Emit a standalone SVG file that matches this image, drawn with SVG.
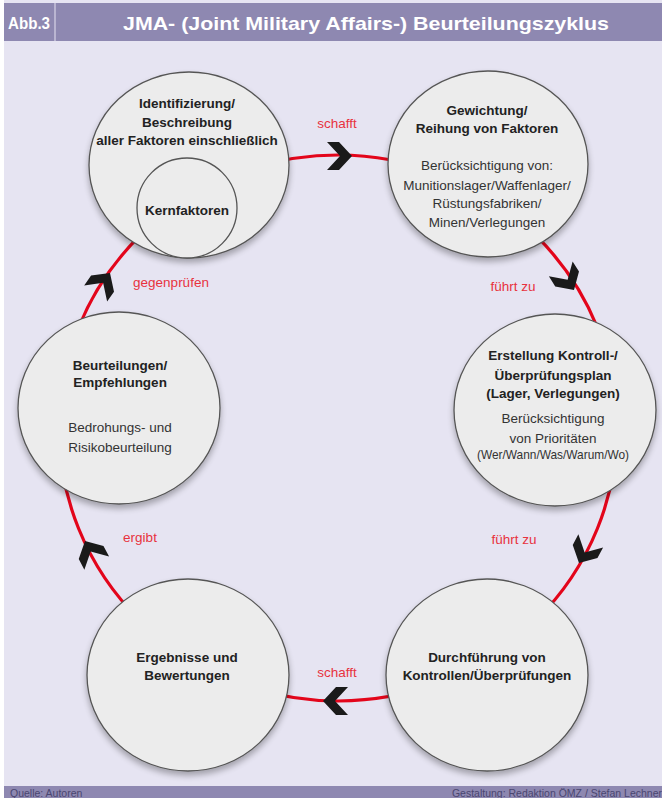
<svg xmlns="http://www.w3.org/2000/svg" width="662" height="798" viewBox="0 0 662 798">
<defs>
<style>
.node{fill:#ececec;stroke:#555;stroke-width:1.3;filter:url(#sh)}
.b{font-family:"Liberation Sans",Arial,sans-serif;font-weight:bold;font-size:13.5px;fill:#222;text-anchor:middle}
.r{font-family:"Liberation Sans",Arial,sans-serif;font-size:13.5px;fill:#333;text-anchor:middle}
.lbl{font-family:"Liberation Sans",Arial,sans-serif;font-size:13.5px;fill:#e8323e;text-anchor:middle}
.ring{fill:none;stroke:#e3051b;stroke-width:3.2}
.hd{font-family:"Liberation Sans",Arial,sans-serif;font-weight:bold;fill:#fff}
.ft{font-family:"Liberation Sans",Arial,sans-serif;font-size:10.5px;fill:#4a4670}
</style>
<filter id="sh" x="-20%" y="-20%" width="140%" height="150%">
<feGaussianBlur in="SourceAlpha" stdDeviation="3"/>
<feOffset dx="0" dy="4" result="o"/>
<feComponentTransfer><feFuncA type="linear" slope="0.3"/></feComponentTransfer>
<feMerge><feMergeNode/><feMergeNode in="SourceGraphic"/></feMerge>
</filter>
<polygon id="chev" points="-25,-14 -13,-14 0,0 -13,14 -25,14 -12,0" fill="#1a1a1a"/>
</defs>
<rect x="0" y="0" width="662" height="798" fill="#ffffff"/>
<rect x="4" y="0" width="658" height="798" fill="#e6e4f2"/>
<rect x="4" y="3" width="658" height="38" fill="#8e88b1"/>
<line x1="55" y1="3" x2="55" y2="41" stroke="#c9c5dc" stroke-width="1.5"/>
<text class="hd" x="8" y="29" font-size="16" textLength="42" lengthAdjust="spacingAndGlyphs">Abb.3</text>
<text class="hd" x="123" y="30" font-size="19" textLength="486" lengthAdjust="spacingAndGlyphs">JMA- (Joint Military Affairs-) Beurteilungszyklus</text>
<rect x="4" y="786" width="658" height="12" fill="#8e88b1"/>
<text class="ft" x="10" y="797">Quelle: Autoren</text>
<text class="ft" x="662" y="797" text-anchor="end">Gestaltung: Redaktion ÖMZ / Stefan Lechner</text>

<g id="connectors">
<ellipse class="ring" cx="338" cy="428" rx="279" ry="273"/>
</g>

<g id="n1">
<ellipse class="node" cx="189" cy="165" rx="100" ry="93"/>
<circle cx="187" cy="208" r="50" fill="#ececec" stroke="#555" stroke-width="1.3"/>
<text class="b" x="187" y="108">Identifizierung/</text>
<text class="b" x="187" y="127">Beschreibung</text>
<text class="b" x="187" y="145">aller Faktoren einschließlich</text>
<text class="b" x="187" y="215">Kernfaktoren</text>
</g>
<g id="n2">
<ellipse class="node" cx="488" cy="164" rx="100" ry="93"/>
<text class="b" x="487" y="115">Gewichtung/</text>
<text class="b" x="487" y="133">Reihung von Faktoren</text>
<text class="r" x="487" y="170">Berücksichtigung von:</text>
<text class="r" x="487" y="190">Munitionslager/Waffenlager/</text>
<text class="r" x="487" y="208">Rüstungsfabriken/</text>
<text class="r" x="487" y="227">Minen/Verlegungen</text>
</g>
<g id="n3">
<ellipse class="node" cx="555" cy="410" rx="101" ry="96"/>
<text class="b" x="553" y="360">Erstellung Kontroll-/</text>
<text class="b" x="553" y="380">Überprüfungsplan</text>
<text class="b" x="553" y="398">(Lager, Verlegungen)</text>
<text class="r" x="553" y="423">Berücksichtigung</text>
<text class="r" x="553" y="443">von Prioritäten</text>
<text class="r" x="553" y="459" font-size="11" textLength="152" lengthAdjust="spacingAndGlyphs">(Wer/Wann/Was/Warum/Wo)</text>
</g>
<g id="n4">
<ellipse class="node" cx="487" cy="675" rx="101" ry="96"/>
<text class="b" x="487" y="662">Durchführung von</text>
<text class="b" x="487" y="680">Kontrollen/Überprüfungen</text>
</g>
<g id="n5">
<ellipse class="node" cx="188" cy="675" rx="101" ry="96"/>
<text class="b" x="187" y="662">Ergebnisse und</text>
<text class="b" x="187" y="680">Bewertungen</text>
</g>
<g id="n6">
<ellipse class="node" cx="119" cy="408" rx="101" ry="96"/>
<text class="b" x="120" y="370">Beurteilungen/</text>
<text class="b" x="120" y="387">Empfehlungen</text>
<text class="r" x="120" y="432">Bedrohungs- und</text>
<text class="r" x="120" y="452">Risikobeurteilung</text>
</g>

<g id="arrows">
<use href="#chev" transform="translate(352,156)"/>
<use href="#chev" transform="translate(574,290) rotate(58)"/>
<use href="#chev" transform="translate(579,563) rotate(118)"/>
<use href="#chev" transform="translate(323,701) rotate(180)"/>
<use href="#chev" transform="translate(85,541) rotate(242)"/>
<use href="#chev" transform="translate(110,273) rotate(305)"/>
</g>
<g id="labels">
<text class="lbl" x="337" y="128">schafft</text>
<text class="lbl" x="513" y="291">führt zu</text>
<text class="lbl" x="514" y="544">führt zu</text>
<text class="lbl" x="337" y="677">schafft</text>
<text class="lbl" x="140" y="542">ergibt</text>
<text class="lbl" x="171" y="287">gegenprüfen</text>
</g>
</svg>
